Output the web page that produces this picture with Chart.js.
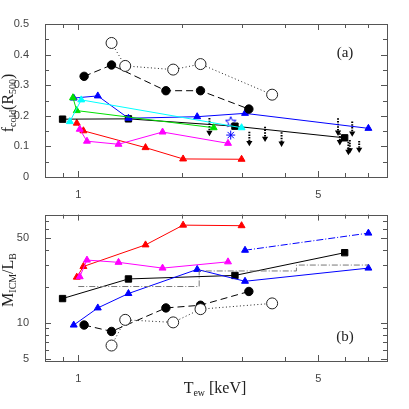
<!DOCTYPE html>
<html>
<head>
<meta charset="utf-8">
<script src="https://cdn.jsdelivr.net/npm/chart.js@4.4.1/dist/chart.umd.min.js"></script>
<style>
  html, body { margin: 0; padding: 0; background: #fff; }
  #wrap { position: relative; width: 409px; height: 409px; overflow: hidden; }
  canvas { position: absolute; left: 0; }
  .lbl { position: absolute; font-family: "Liberation Serif", "DejaVu Serif", serif; color: #222; white-space: nowrap; line-height: 1; }
  .lbl sub { font-size: 62%; vertical-align: -0.35em; }
  .rot { transform: translate(-50%, -50%) rotate(-90deg); }
  .ctr { transform: translate(-50%, -50%); }
</style>
</head>
<body>
<div id="wrap">
  <canvas id="top" width="409" height="200" style="top:0"></canvas>
  <canvas id="bottom" width="409" height="209" style="top:200px"></canvas>
  <div class="lbl rot" style="left:9px; top:103px; font-size:16px">f<sub>cold</sub>(R<sub>500</sub>)</div>
  <div class="lbl rot" style="left:9px; top:280px; font-size:16px">M<sub>ICM</sub>/L<sub>B</sub></div>
  <div class="lbl ctr" style="left:215px; top:389px; font-size:16px">T<sub>ew</sub> [keV]</div>
  <div class="lbl ctr" style="left:345px; top:52px; font-size:15px">(a)</div>
  <div class="lbl ctr" style="left:345px; top:336px; font-size:15px">(b)</div>
</div>
<script>
// temperatures [keV] and values per group
var tempBlack = [0.90, 1.40, 2.86, 5.97];
var fcoldBlack = [0.189, 0.190, 0.166, 0.128];
var mlBlack = [15.9, 23.1, 24.7, 38.1];

var tempFilled = [1.04, 1.25, 1.80, 2.27, 3.14];
var fcoldFilled = [0.329, 0.366, 0.282, 0.282, 0.222];
var mlFilled = [9.6, 8.5, 13.3, 14.0, 18.2];

var tempOpen = [1.25, 1.37, 1.89, 2.27, 3.67];
var fcoldOpen = [0.438, 0.363, 0.351, 0.369, 0.269];
var mlOpen = [6.5, 10.6, 10.1, 13.0, 14.5];

var tempBlue = [0.97, 1.14, 1.40, 2.22, 3.06, 7.0];
var fcoldBlue = [0.258, 0.265, 0.192, 0.197, 0.208, 0.159];
var mlBlue = [9.6, 13.3, 17.5, 27.7, 22.1, 28.4];

var tempBlueHi = [3.06, 7.0];
var mlBlueHi = [39.9, 55.3];

var tempRed = [0.99, 1.035, 1.57, 2.02, 2.99];
var fcoldRed = [0.176, 0.151, 0.096, 0.059, 0.058];
var mlRed = [23.9, 29.3, 44.2, 64.4, 63.7];

var tempMagenta = [1.01, 1.06, 1.31, 1.76, 2.73];
var fcoldMagenta = [0.156, 0.117, 0.107, 0.147, 0.110];
var mlMagenta = [24.1, 33.1, 31.7, 28.4, 32.0];

var tempGreen = [0.965, 0.99, 2.48];
var fcoldGreen = [0.259, 0.217, 0.161];

var tempCyan = [0.945, 1.02, 2.99];
var fcoldCyan = [0.181, 0.252, 0.161];

var tempStar = [2.78];
var fcoldStarOpen = [0.181];
var fcoldStarFilled = [0.137];

// upper limits (dotted arrows)
var tempLimit = [2.41, 3.15, 3.50, 3.91, 5.71, 5.78, 6.12, 6.18, 6.28, 6.58];
var limitTop = [0.193, 0.148, 0.164, 0.146, 0.192, 0.143, 0.115, 0.121, 0.181, 0.118];
var limitBottom = [0.145, 0.112, 0.126, 0.110, 0.146, 0.115, 0.083, 0.088, 0.143, 0.090];

// grey dash-dot step line (panel b)
var tempStep = [1.0, 2.25, 2.25, 4.32, 4.32, 7.0];
var mlStep = [20.0, 20.0, 26.9, 26.9, 30.1, 30.1];

// axis ticks
var xTickMarks = [0.9, 1, 2, 3, 4, 5, 6, 7];
var xTickLabels = [1, 5];
var fcoldTickMarks = [0, 0.05, 0.1, 0.15, 0.2, 0.25, 0.3, 0.35, 0.4, 0.45, 0.5];
var fcoldTickLabels = [0, 0.1, 0.2, 0.3, 0.4, 0.5];
var mlTickMarks = [5, 6, 7, 8, 9, 10, 20, 30, 40, 50, 60, 70];
var mlTickLabels = [5, 10, 50];

function pts(xs, ys) {
    return xs.map(function (x, i) { return { x: x, y: ys[i] }; });
}

function openStar() {
    var c = document.createElement('canvas');
    c.width = 12; c.height = 12;
    var g = c.getContext('2d');
    g.strokeStyle = '#0000ff';
    g.lineWidth = 1;
    g.beginPath();
    for (var i = 0; i < 10; i++) {
        var r = i % 2 === 0 ? 5.5 : 2.4;
        var a = -Math.PI / 2 + i * Math.PI / 5;
        var px = 6 + r * Math.cos(a), py = 6.5 + r * Math.sin(a);
        if (i === 0) g.moveTo(px, py); else g.lineTo(px, py);
    }
    g.closePath();
    g.stroke();
    return c;
}

function limitData() {
    var d = [];
    for (var i = 0; i < tempLimit.length; i++) {
        d.push({ x: tempLimit[i], y: limitTop[i] });
        d.push({ x: tempLimit[i], y: limitBottom[i] });
        d.push({ x: tempLimit[i], y: null });
    }
    return d;
}

function series(xs, ys, color, style, extra) {
    var ds = {
        data: pts(xs, ys),
        borderColor: color,
        backgroundColor: color,
        borderWidth: 1,
        pointStyle: style,
        pointRadius: 4,
        pointBorderWidth: 1,
        showLine: true,
        tension: 0
    };
    for (var k in extra) ds[k] = extra[k];
    return ds;
}

// frame and inward tick marks
var frameTicks = {
    id: 'frameTicks',
    afterDatasetsDraw: function (chart, args, opts) {
        var ctx = chart.ctx, a = chart.chartArea;
        var sx = chart.scales.x, sy = chart.scales.y;
        ctx.save();
        ctx.strokeStyle = '#555';
        ctx.lineWidth = 1;
        ctx.beginPath();
        opts.x.forEach(function (v) {
            var p = Math.round(sx.getPixelForValue(v)) + 0.5;
            var len = opts.xMajor.indexOf(v) >= 0 ? 6 : 4;
            ctx.moveTo(p, a.bottom); ctx.lineTo(p, a.bottom - len);
            ctx.moveTo(p, a.top); ctx.lineTo(p, a.top + len);
        });
        opts.y.forEach(function (v) {
            var p = Math.round(sy.getPixelForValue(v)) + 0.5;
            var len = opts.yMajor.indexOf(v) >= 0 ? 6 : 4;
            ctx.moveTo(a.left, p); ctx.lineTo(a.left + len, p);
            ctx.moveTo(a.right, p); ctx.lineTo(a.right - len, p);
        });
        ctx.stroke();
        ctx.strokeRect(Math.round(a.left) + 0.5, Math.round(a.top) + 0.5,
            Math.round(a.right - a.left), Math.round(a.bottom - a.top));
        ctx.restore();
    }
};

var tickFont = { family: '"Liberation Sans", Arial, sans-serif', size: 11 };

function makeChart(id, datasets, yScale, padTop, xHeight, marks) {
    return new Chart(document.getElementById(id), {
        type: 'scatter',
        data: { datasets: datasets },
        options: {
            responsive: false,
            animation: false,
            devicePixelRatio: 1,
            layout: { padding: { top: padTop, right: 22, left: 0, bottom: 0 } },
            plugins: {
                legend: { display: false },
                tooltip: { enabled: false },
                frameTicks: marks
            },
            scales: {
                x: {
                    type: 'logarithmic',
                    min: 0.8,
                    max: 7.93,
                    grid: { display: false },
                    border: { display: false },
                    afterBuildTicks: function (s) {
                        s.ticks = xTickLabels.map(function (v) { return { value: v }; });
                    },
                    afterFit: function (s) { s.height = xHeight; },
                    ticks: {
                        font: tickFont, color: '#444', padding: 3, maxRotation: 0,
                        callback: function (v) { return String(v); }
                    }
                },
                y: yScale
            }
        },
        plugins: [frameTicks]
    });
}

var topSets = [
    series(tempOpen, fcoldOpen, '#222', 'circle',
        { borderDash: [1, 2.5], pointRadius: 5.5, backgroundColor: '#fff' }),
    series(tempOpen, fcoldOpen, '#222', 'circle', { showLine: false, pointRadius: 1 }),
    series(tempFilled, fcoldFilled, '#000', 'circle', { borderDash: [7, 4], pointRadius: 4.2 }),
    series(tempCyan, fcoldCyan, '#00ffff', 'triangle', {}),
    series(tempGreen, fcoldGreen, '#00e000', 'triangle', {}),
    series(tempBlue, fcoldBlue, '#0000ff', 'triangle', {}),
    series(tempBlack, fcoldBlack, '#000', 'rect', { pointRadius: 4.5 }),
    series(tempMagenta, fcoldMagenta, '#ff00ff', 'triangle', {}),
    series(tempRed, fcoldRed, '#ff0000', 'triangle', {}),
    series(tempStar, fcoldStarOpen, '#0000ff', openStar(), { showLine: false }),
    series(tempStar, fcoldStarFilled, '#0000ff', 'star', { showLine: false, pointRadius: 4.5 }),
    {
        data: limitData(),
        borderColor: '#000',
        backgroundColor: '#000',
        borderWidth: 2,
        borderDash: [1.5, 1.2],
        showLine: true,
        spanGaps: false,
        pointStyle: 'triangle',
        rotation: 180,
        pointRadius: function (c) { return c.dataIndex % 3 === 1 ? 1.6 : 0; }
    }
];

var bottomSets = [
    series(tempStep, mlStep, '#777', 'circle',
        { pointRadius: 0, borderDash: [6, 2, 1, 2] }),
    series(tempOpen, mlOpen, '#222', 'circle',
        { borderDash: [1, 2.5], pointRadius: 5.5, backgroundColor: '#fff' }),
    series(tempOpen, mlOpen, '#222', 'circle', { showLine: false, pointRadius: 1 }),
    series(tempFilled, mlFilled, '#000', 'circle', { borderDash: [7, 4], pointRadius: 4.2 }),
    series(tempBlue, mlBlue, '#0000ff', 'triangle', {}),
    series(tempBlueHi, mlBlueHi, '#0000ff', 'triangle', { borderDash: [7, 2, 1, 2] }),
    series(tempBlack, mlBlack, '#000', 'rect', { pointRadius: 4.5 }),
    series(tempMagenta, mlMagenta, '#ff00ff', 'triangle', {}),
    series(tempRed, mlRed, '#ff0000', 'triangle', {})
];

function yAxis(type, min, max, labels) {
    return {
        type: type,
        min: min,
        max: max,
        grid: { display: false },
        border: { display: false },
        afterBuildTicks: function (s) {
            s.ticks = labels.map(function (v) { return { value: v }; });
        },
        afterFit: function (s) { s.width = 45; },
        ticks: {
            font: tickFont, color: '#444', padding: 8,
            callback: function (v) { return String(v); }
        }
    };
}

makeChart('top', topSets, yAxis('linear', 0, 0.5, fcoldTickLabels), 24, 23,
    { x: xTickMarks, xMajor: xTickLabels, y: fcoldTickMarks, yMajor: fcoldTickLabels });
makeChart('bottom', bottomSets, yAxis('logarithmic', 4.84, 78.7, mlTickLabels), 3, 48,
    { x: xTickMarks, xMajor: xTickLabels, y: mlTickMarks, yMajor: mlTickLabels });
</script>
</body>
</html>
